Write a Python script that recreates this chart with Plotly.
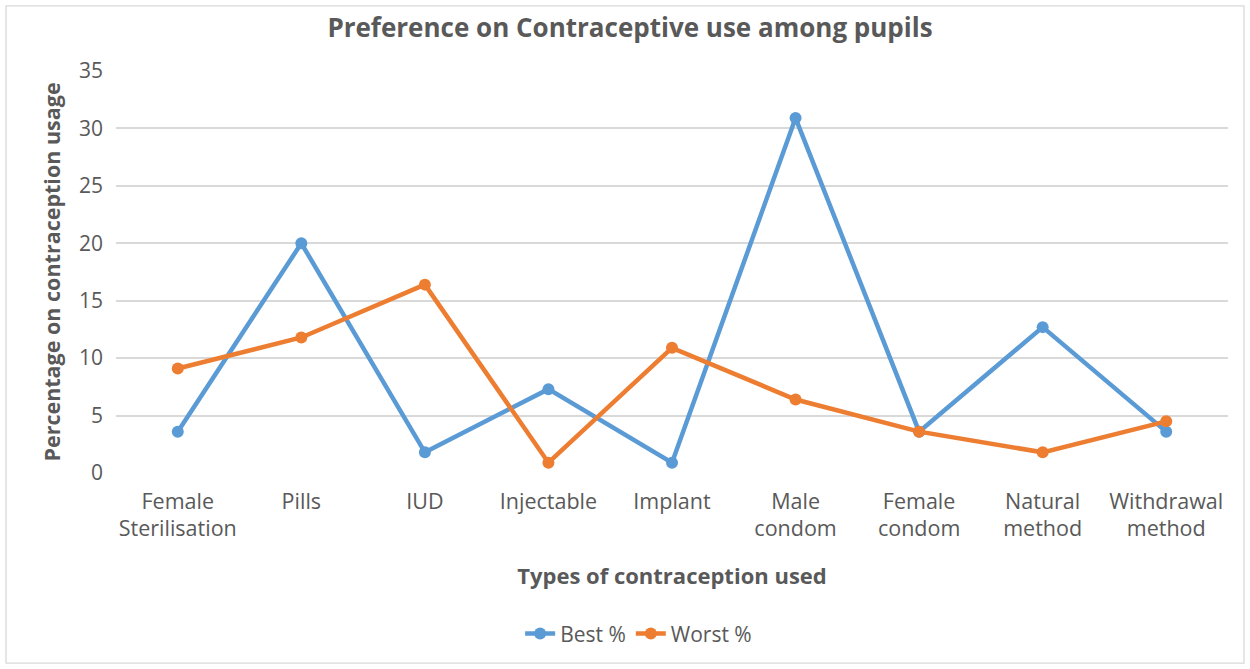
import plotly.graph_objects as go

categories = [
    "Female<br>Sterilisation", "Pills", "IUD", "Injectable", "Implant",
    "Male<br>condom", "Female<br>condom", "Natural<br>method", "Withdrawal<br>method",
]
best_pct = [3.6, 20.0, 1.8, 7.3, 0.9, 30.9, 3.6, 12.7, 3.6]
worst_pct = [9.1, 11.8, 16.4, 0.9, 10.9, 6.4, 3.6, 1.8, 4.5]
y_ticks = [0, 5, 10, 15, 20, 25, 30, 35]

BLUE = "#5B9BD5"
ORANGE = "#ED7D31"
TEXT = "#595959"
FONT = "Open Sans"

x_idx = list(range(len(categories)))

fig = go.Figure()
fig.add_trace(go.Scatter(
    x=x_idx, y=best_pct, name="Best %", mode="lines+markers",
    line=dict(color=BLUE, width=4.5), marker=dict(color=BLUE, size=12),
))
fig.add_trace(go.Scatter(
    x=x_idx, y=worst_pct, name="Worst %", mode="lines+markers",
    line=dict(color=ORANGE, width=4.5), marker=dict(color=ORANGE, size=12),
))

fig.update_layout(
    width=1250, height=669,
    margin=dict(l=116, r=22, t=71, b=196),
    paper_bgcolor="white", plot_bgcolor="white",
    font=dict(family=FONT, color=TEXT, size=21),
    title=dict(
        text="<b>Preference on Contraceptive use among pupils</b>",
        x=0.504, xanchor="center", y=0.958, yanchor="middle",
        font=dict(size=26, color=TEXT, family=FONT),
    ),
    xaxis=dict(
        range=[-0.5, len(categories) - 0.5],
        tickmode="array", tickvals=x_idx, ticktext=categories,
        showgrid=False, zeroline=False, showline=False, ticks="",
        ticklabelstandoff=13,
        tickfont=dict(size=21.5, color=TEXT),
        title=dict(text="<b>Types of contraception used</b>",
                   font=dict(size=22, color=TEXT), standoff=27),
    ),
    yaxis=dict(
        range=[0, 35], tickmode="array", tickvals=y_ticks,
        showgrid=True, gridcolor="#D9D9D9", gridwidth=1.5,
        zeroline=False, showline=False, ticks="",
        ticklabelstandoff=12,
        tickfont=dict(size=21, color=TEXT),
        title=dict(text="<b>Percentage on contraception usage</b>",
                   font=dict(size=21.5, color=TEXT), standoff=12),
    ),
    showlegend=True,
    legend=dict(
        orientation="h", x=0.47, xanchor="center", y=-0.40, yanchor="middle",
        font=dict(size=21, color=TEXT), itemwidth=30,
    ),
)

# Chart frame border
fig.add_shape(type="rect", xref="paper", yref="paper",
              x0=-0.0989, x1=1.0144, y0=-0.473, y1=1.162,
              line=dict(color="#D9D9D9", width=1.3), layer="below")

fig.write_html("out.html")
